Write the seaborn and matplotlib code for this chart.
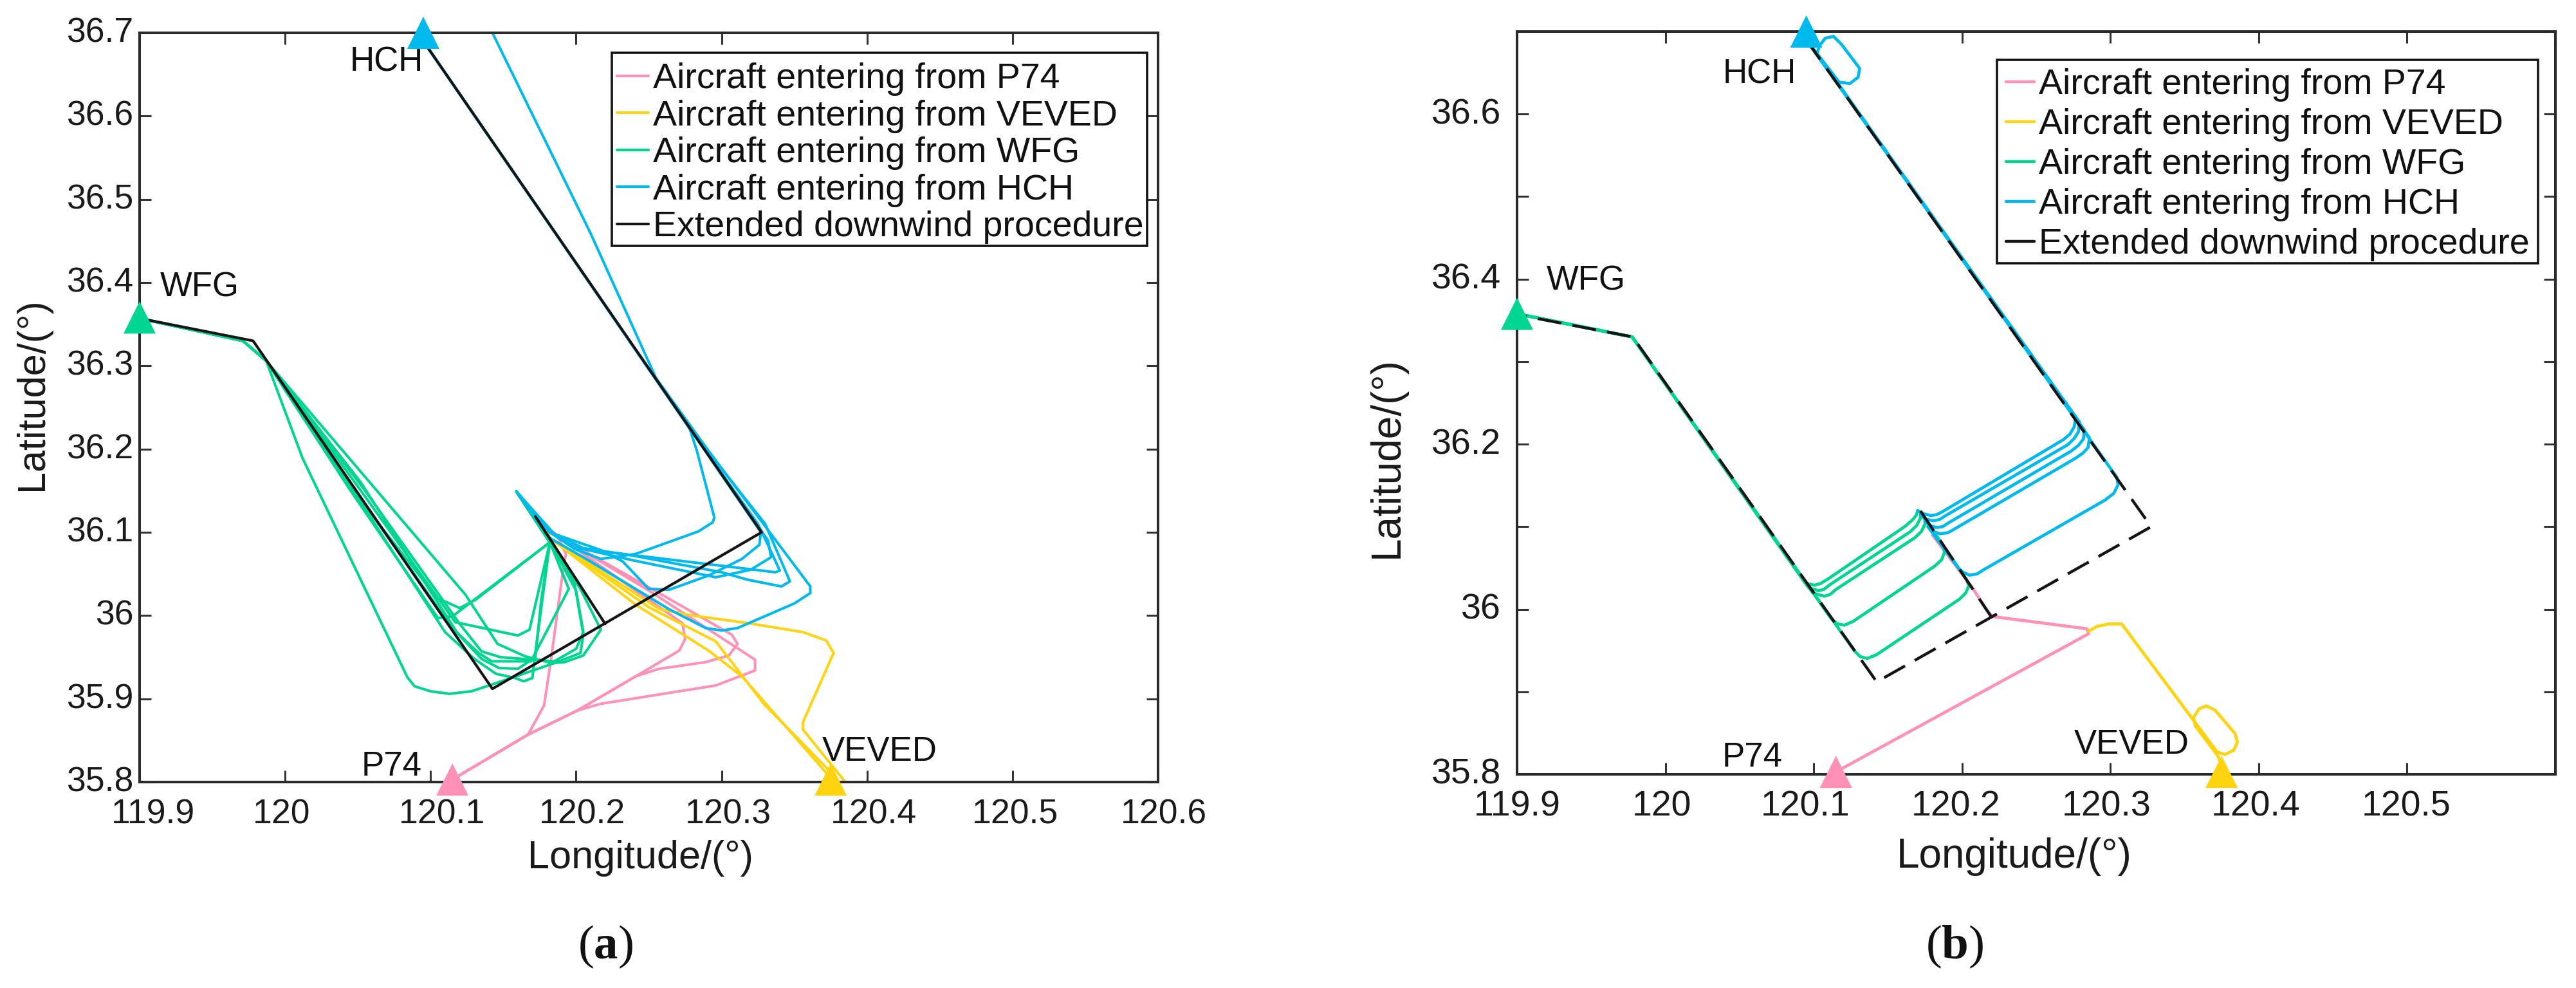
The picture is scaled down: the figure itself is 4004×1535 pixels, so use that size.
import matplotlib
matplotlib.use("Agg")
import matplotlib.pyplot as plt
import pandas as pd
import seaborn as sns
from matplotlib.lines import Line2D
from matplotlib.patches import Rectangle
from matplotlib.transforms import ScaledTranslation

sns.set_theme(style="ticks")
plt.rcParams["font.family"] = ["Liberation Sans", "DejaVu Sans"]
plt.rcParams["mathtext.fontset"] = "custom"
plt.rcParams["mathtext.bf"] = "Liberation Serif:bold"
plt.rcParams["mathtext.rm"] = "Liberation Serif"

W, H = 4004, 1535
DPI = 100

PINK = "#FF90B6"
YELLOW = "#FFD30F"
GREEN = "#00D592"
BLUE = "#00BAEE"
BLACK = "#141414"

LEGEND_LABELS = [
    "Aircraft entering from P74",
    "Aircraft entering from VEVED",
    "Aircraft entering from WFG",
    "Aircraft entering from HCH",
    "Extended downwind procedure",
]

X_TICKS = [119.9, 120.0, 120.1, 120.2, 120.3, 120.4, 120.5, 120.6]
Y_TICKS = [35.8, 35.9, 36.0, 36.1, 36.2, 36.3, 36.4, 36.5, 36.6, 36.7]
X_LABELS_A = ["119.9", "120", "120.1", "120.2", "120.3", "120.4", "120.5", "120.6"]
X_LABELS_B = ["119.9", "120", "120.1", "120.2", "120.3", "120.4", "120.5", ""]
Y_LABELS_A = ["35.8", "35.9", "36", "36.1", "36.2", "36.3", "36.4", "36.5", "36.6", "36.7"]
Y_LABELS_B = ["35.8", "", "36", "", "36.2", "", "36.4", "", "36.6", ""]

# the x labels in the original sit a little off their ticks (pixels)
X_NUDGE_A = [21, -6, 18, 10, 10, 10, 4, 9]
X_NUDGE_B = [0, -6, -13, -10, -6, -5, -1, 0]

# entry fixes, same colours as the routes
FIX_NAMES = ["P74", "VEVED", "WFG", "HCH"]
FIX_LON = [120.115, 120.375, 119.9, 120.095]
FIX_LAT = [35.803, 35.803, 36.358, 36.70]

# procedure outline (lon, lat)
PROC_OUTER = [(120.095, 36.69), (120.3275, 36.10), (120.1425, 35.912), (119.978, 36.33), (119.9, 36.357)]
PROC_INNER = [(120.172, 36.119), (120.22, 35.99)]

# panel (a), flown tracks
WFG_HEAD = [(119.9, 36.357), (119.971, 36.33), (119.987, 36.306)]
WFG_TAIL = [(120.182, 36.088), (120.159, 36.149)]
A_WFG = [
    [(120.012, 36.189), (120.084, 35.926), (120.089, 35.915), (120.1, 35.909), (120.113, 35.906), (120.128, 35.909), (120.142, 35.917), (120.187, 35.944), (120.203, 35.955), (120.205, 35.977), (120.199, 36.038)],
    [(120.124, 36.025), (120.146, 35.966), (120.165, 35.951), (120.183, 35.943), (120.192, 35.944), (120.205, 35.952), (120.217, 35.983), (120.203, 36.032)],
    [(120.04, 36.164), (120.105, 36.02), (120.111, 36.016), (120.12, 36.009), (120.131, 36.019)],
    [(120.045, 36.15), (120.105, 35.997), (120.115, 35.999)],
    [(120.05, 36.155), (120.117, 35.992), (120.16, 35.976), (120.168, 35.983)],
    [(120.052, 36.16), (120.118, 35.98), (120.133, 35.955), (120.142, 35.945), (120.169, 35.945), (120.195, 36.032)],
    [(120.048, 36.15), (120.115, 35.985), (120.135, 35.948), (120.147, 35.937), (120.16, 35.936), (120.172, 35.95), (120.176, 36.018)],
    [(120.043, 36.16), (120.11, 35.98), (120.13, 35.948), (120.145, 35.93), (120.158, 35.925), (120.164, 35.921), (120.17, 35.925), (120.172, 35.955)],
    [(120.055, 36.15), (120.12, 35.99), (120.135, 35.957), (120.148, 35.95), (120.185, 35.945), (120.2, 35.96), (120.205, 35.98), (120.2, 36.03)],
]
HCH_HEAD = [(120.095, 36.69), (120.278, 36.225)]
HCH_TAIL = [(120.159, 36.149)]
A_HCH = [
    [(120.1425, 36.7), (120.21, 36.459), (120.255, 36.285), (120.291, 36.198), (120.361, 36.035), (120.361, 36.027), (120.35, 36.0145), (120.311, 35.985), (120.30, 35.982), (120.289, 35.985), (120.264, 36.0075), (120.205, 36.07), (120.182, 36.093)],
    HCH_HEAD + [(120.283, 36.198), (120.295, 36.118), (120.294, 36.112), (120.284, 36.101), (120.241, 36.074), (120.217, 36.068), (120.199, 36.08), (120.182, 36.1)],
    HCH_HEAD + [(120.327, 36.1), (120.326, 36.085), (120.314, 36.068), (120.291, 36.048), (120.264, 36.031), (120.25, 36.032), (120.232, 36.065), (120.218, 36.078), (120.185, 36.098)],
    HCH_HEAD + [(120.325, 36.11), (120.334, 36.077), (120.34, 36.054), (120.337, 36.052), (120.199, 36.081), (120.182, 36.1)],
    HCH_HEAD + [(120.33, 36.11), (120.347, 36.041), (120.341, 36.035), (120.318, 36.043), (120.3, 36.052), (120.239, 36.072), (120.205, 36.081), (120.182, 36.1)],
    HCH_HEAD + [(120.332, 36.09), (120.334, 36.07), (120.32, 36.055), (120.296, 36.046), (120.24, 36.066), (120.205, 36.08), (120.182, 36.1)],
]
P74_HEAD = [(120.115, 35.803), (120.167, 35.857)]
P74_TAIL = [(120.187, 36.096), (120.172, 36.118)]
A_P74 = [
    P74_HEAD + [(120.178, 35.892), (120.183, 35.95), (120.191, 36.054), (120.193, 36.074)],
    P74_HEAD + [(120.201, 35.886), (120.217, 35.894), (120.296, 35.916), (120.323, 35.934), (120.323, 35.947), (120.25, 36.03)],
    P74_HEAD + [(120.201, 35.886), (120.241, 35.927), (120.257, 35.936), (120.289, 35.944), (120.305, 35.952), (120.311, 35.966), (120.307, 35.977), (120.26, 36.024)],
    P74_HEAD + [(120.201, 35.886), (120.241, 35.927), (120.271, 35.958), (120.275, 35.972), (120.273, 35.991), (120.25, 36.019)],
]
VEVED_TAIL = [(120.183, 36.092), (120.172, 36.118)]
A_VEVED = [
    [(120.385, 35.8), (120.356, 35.863), (120.356, 35.872), (120.377, 35.955), (120.372, 35.97), (120.356, 35.98), (120.318, 35.991), (120.28, 36.0), (120.257, 36.008)],
    [(120.375, 35.812), (120.329, 35.894), (120.296, 35.969), (120.25, 36.01)],
    [(120.375, 35.805), (120.314, 35.927), (120.291, 35.958), (120.241, 36.013)],
]

# panel (b), planned tracks
B_WFG_HEAD = [(119.9, 36.358), (119.9776, 36.33)]
B_WFG = [
    [(120.0946, 36.0315), (120.1004, 36.0291), (120.1043, 36.0309), (120.1091, 36.036), (120.1614, 36.1002), (120.1662, 36.1076), (120.1691, 36.1136), (120.1701, 36.1196)],
    [(120.0965, 36.0261), (120.1033, 36.0225), (120.1068, 36.024), (120.1111, 36.03), (120.1653, 36.0942), (120.1695, 36.1017), (120.172, 36.1106), (120.172, 36.1166)],
    [(120.0994, 36.0196), (120.1072, 36.0157), (120.1111, 36.018), (120.115, 36.024), (120.1682, 36.0867), (120.1726, 36.0942), (120.175, 36.1031), (120.175, 36.1091)],
    [(120.112, 35.9882), (120.1159, 35.9823), (120.1207, 35.9807), (120.1265, 35.9852), (120.1817, 36.0524), (120.1862, 36.0599), (120.1881, 36.0688), (120.1875, 36.0763), (120.172, 36.117)],
    [(120.1275, 35.9494), (120.1314, 35.9425), (120.1362, 35.9404), (120.1424, 35.945), (120.1982, 36.0121), (120.2024, 36.0195), (120.2046, 36.0285), (120.203, 36.036), (120.172, 36.117)],
]
B_HCH_HEAD = [(120.095, 36.69)]
B_HCH_LOOP = [(120.1172, 36.6386), (120.1244, 36.637), (120.1299, 36.6446), (120.131, 36.6553), (120.1188, 36.6843), (120.1133, 36.6942), (120.1078, 36.6919), (120.1039, 36.6828), (120.1022, 36.673)]
B_HCH = [
    B_HCH_LOOP + [(120.2766, 36.2315), (120.2756, 36.221), (120.2727, 36.2121), (120.2683, 36.2055), (120.1866, 36.118), (120.1827, 36.1145), (120.1788, 36.1136), (120.174, 36.1157), (120.1701, 36.1196)],
    [(120.2791, 36.227), (120.2785, 36.215), (120.2756, 36.207), (120.2714, 36.1995), (120.1885, 36.113), (120.1846, 36.1085), (120.1804, 36.1073), (120.1759, 36.1091), (120.172, 36.1136)],
    [(120.2824, 36.2172), (120.2818, 36.2061), (120.2785, 36.1987), (120.2737, 36.1918), (120.1908, 36.1046), (120.1869, 36.1), (120.1827, 36.099), (120.1784, 36.1016), (120.175, 36.1067)],
    [(120.2859, 36.2076), (120.2849, 36.1957), (120.2814, 36.1891), (120.2766, 36.1831), (120.1943, 36.0966), (120.1904, 36.0927), (120.185, 36.0915), (120.1804, 36.0942), (120.1769, 36.1002)],
    [(120.3043, 36.1599), (120.3052, 36.1509), (120.3023, 36.1405), (120.2965, 36.1324), (120.2146, 36.0479), (120.2102, 36.0428), (120.205, 36.0413), (120.2007, 36.0449), (120.1978, 36.0494), (120.1769, 36.1002)],
]
B_P74 = [[(120.115, 35.803), (120.2853, 35.9703), (120.2843, 35.9763), (120.2204, 35.9912), (120.2175, 35.997), (120.206, 36.0285), (120.18, 36.09)]]
B_VEVED = [[(120.376, 35.805), (120.3724, 35.8225), (120.3573, 35.8584), (120.356, 35.8688), (120.3598, 35.8793), (120.3647, 35.8828), (120.3705, 35.8778), (120.384, 35.8494), (120.3856, 35.839), (120.3831, 35.8291), (120.3773, 35.8241), (120.372, 35.827), (120.3076, 35.9822), (120.2989, 35.9822), (120.2911, 35.9793), (120.2853, 35.9733)]]


def tracks_frame(groups):
    rows = []
    for name, tracks in groups:
        for i, track in enumerate(tracks):
            for lon, lat in track:
                rows.append({"group": name, "track": f"{name}{i}", "lon": lon, "lat": lat})
    return pd.DataFrame(rows)


PANEL_A = tracks_frame([
    ("P74", [t + P74_TAIL for t in A_P74]),
    ("VEVED", [t + VEVED_TAIL for t in A_VEVED]),
    ("WFG", [WFG_HEAD + t + WFG_TAIL for t in A_WFG]),
    ("HCH", [t + HCH_TAIL for t in A_HCH]),
])
PANEL_B = tracks_frame([
    ("P74", B_P74),
    ("VEVED", B_VEVED),
    ("WFG", [B_WFG_HEAD + t for t in B_WFG]),
    ("HCH", [B_HCH_HEAD + t for t in B_HCH]),
])
PROC = tracks_frame([("PROC", [PROC_OUTER, PROC_INNER])])
FIXES = pd.DataFrame({"name": FIX_NAMES, "lon": FIX_LON, "lat": FIX_LAT})
PALETTE = {"P74": PINK, "VEVED": YELLOW, "WFG": GREEN, "HCH": BLUE, "PROC": BLACK}


def px_axes(fig, left, top, right, bottom):
    return fig.add_axes([left / W, 1 - bottom / H, (right - left) / W, (bottom - top) / H])


def place_labels(ax, box, xlabel_px, ylabel_px, size):
    left, top, right, bottom = box
    ax.set_xlabel("Longitude/(°)", fontsize=size, color="#1a1a1a", va="center")
    ax.set_ylabel("Latitude/(°)", fontsize=size, color="#1a1a1a", va="center")
    ax.xaxis.set_label_coords((xlabel_px[0] - left) / (right - left), (bottom - xlabel_px[1]) / (bottom - top))
    ax.yaxis.set_label_coords((ylabel_px[0] - left) / (right - left), (bottom - ylabel_px[1]) / (bottom - top))


def nudge_ticks(ax, x_nudge, y_up):
    trans = ax.figure.dpi_scale_trans
    for label, dx in zip(ax.get_xticklabels(), x_nudge):
        label.set_transform(label.get_transform() + ScaledTranslation(dx / DPI, 0, trans))
    for label in ax.get_yticklabels():
        label.set_transform(label.get_transform() + ScaledTranslation(0, y_up / DPI, trans))


def add_legend(ax, frame_px, handle_x, rows_top, legend_fs, spacing, handle_len, lw):
    left, top, right, bottom = frame_px
    frame = Rectangle((left / W, 1 - bottom / H), (right - left) / W, (bottom - top) / H, transform=ax.figure.transFigure,
                      facecolor="white", edgecolor="#111111", linewidth=2.6, zorder=4, clip_on=False)
    ax.add_patch(frame)
    handles = [Line2D([], [], color=PALETTE[k], lw=lw) for k in ["P74", "VEVED", "WFG", "HCH", "PROC"]]
    leg = ax.legend(handles, LEGEND_LABELS, loc="upper left",
                    bbox_to_anchor=(handle_x / W, 1 - rows_top / H), bbox_transform=ax.figure.transFigure,
                    borderaxespad=0, borderpad=0, fontsize=legend_fs, frameon=False, labelspacing=spacing,
                    handlelength=handle_len, handletextpad=0.12, labelcolor="#111111")
    leg.set_zorder(6)
    return leg


def draw_panel(ax, tracks, lw, proc_lw, proc_style, x_labels, y_labels, tick_fs, ypad):
    sns.lineplot(data=tracks, x="lon", y="lat", hue="group", units="track", estimator=None, sort=False,
                 palette=PALETTE, hue_order=["P74", "VEVED", "WFG", "HCH"], linewidth=lw, legend=False, ax=ax)
    sns.lineplot(data=PROC, x="lon", y="lat", units="track", estimator=None, sort=False,
                 color=BLACK, linewidth=proc_lw, linestyle=proc_style, ax=ax)
    sns.scatterplot(data=FIXES, x="lon", y="lat", hue="name", palette=PALETTE, marker="^", s=1300, linewidth=0,
                    legend=False, clip_on=False, zorder=5, ax=ax)

    ax.set_xlim(119.9, 120.6)
    ax.set_ylim(35.8, 36.7)
    ax.set_xticks(X_TICKS, x_labels)
    ax.set_yticks(Y_TICKS, y_labels)
    ax.tick_params(direction="in", top=True, right=True, length=13, width=2.2, color="#333333",
                   labelsize=tick_fs, labelcolor="#1a1a1a")
    ax.tick_params(axis="y", pad=ypad)
    ax.tick_params(axis="x", pad=18)
    for spine in ax.spines.values():
        spine.set_linewidth(2.9)
        spine.set_color("#2a2a2a")


fig = plt.figure(figsize=(W / DPI, H / DPI), dpi=DPI)

box_a = (217, 51, 1800, 1215)
ax_a = px_axes(fig, *box_a)
draw_panel(ax_a, PANEL_A, 2.9, 3.0, "-", X_LABELS_A, Y_LABELS_A, 38.5, 7)
nudge_ticks(ax_a, X_NUDGE_A, 5)
add_legend(ax_a, (951, 82, 1783, 382), 959, 97, 40, 0.1, 0.88, 3.0)
place_labels(ax_a, box_a, (995, 1333), (51, 612), 44)

box_b = (2358, 49, 3972, 1203)
ax_b = px_axes(fig, *box_b)
draw_panel(ax_b, PANEL_B, 3.4, 3.2, (0, (8.4, 3.9)), X_LABELS_B, Y_LABELS_B, 40, 18)
nudge_ticks(ax_b, X_NUDGE_B, 5)
add_legend(ax_b, (3104, 93, 3945, 409), 3118, 106, 40, 0.18, 0.8, 3.2)
place_labels(ax_b, box_b, (3131, 1331), (2156, 710), 46)

for ax, labels in [
    (ax_a, [("HCH", 120.095, 36.665, "right"), ("WFG", 119.914, 36.394, "left"), ("P74", 120.094, 35.8186, "right"), ("VEVED", 120.369, 35.836, "left")]),
    (ax_b, [("HCH", 120.088, 36.648, "right"), ("WFG", 119.92, 36.398, "left"), ("P74", 120.079, 35.82, "right"), ("VEVED", 120.353, 35.836, "right")]),
]:
    for name, lon, lat, ha in labels:
        ax.text(lon, lat, name, ha=ha, va="center", fontsize=38, color="#111111")

fig.text(941 / W, 1 - 1471 / H, r"($\mathbf{a}$)", ha="center", va="center", fontsize=54, family="Liberation Serif", color="#111111")
fig.text(3038 / W, 1 - 1471 / H, r"($\mathbf{b}$)", ha="center", va="center", fontsize=54, family="Liberation Serif", color="#111111")

fig.savefig("out.png", dpi=DPI)
plt.close(fig)
